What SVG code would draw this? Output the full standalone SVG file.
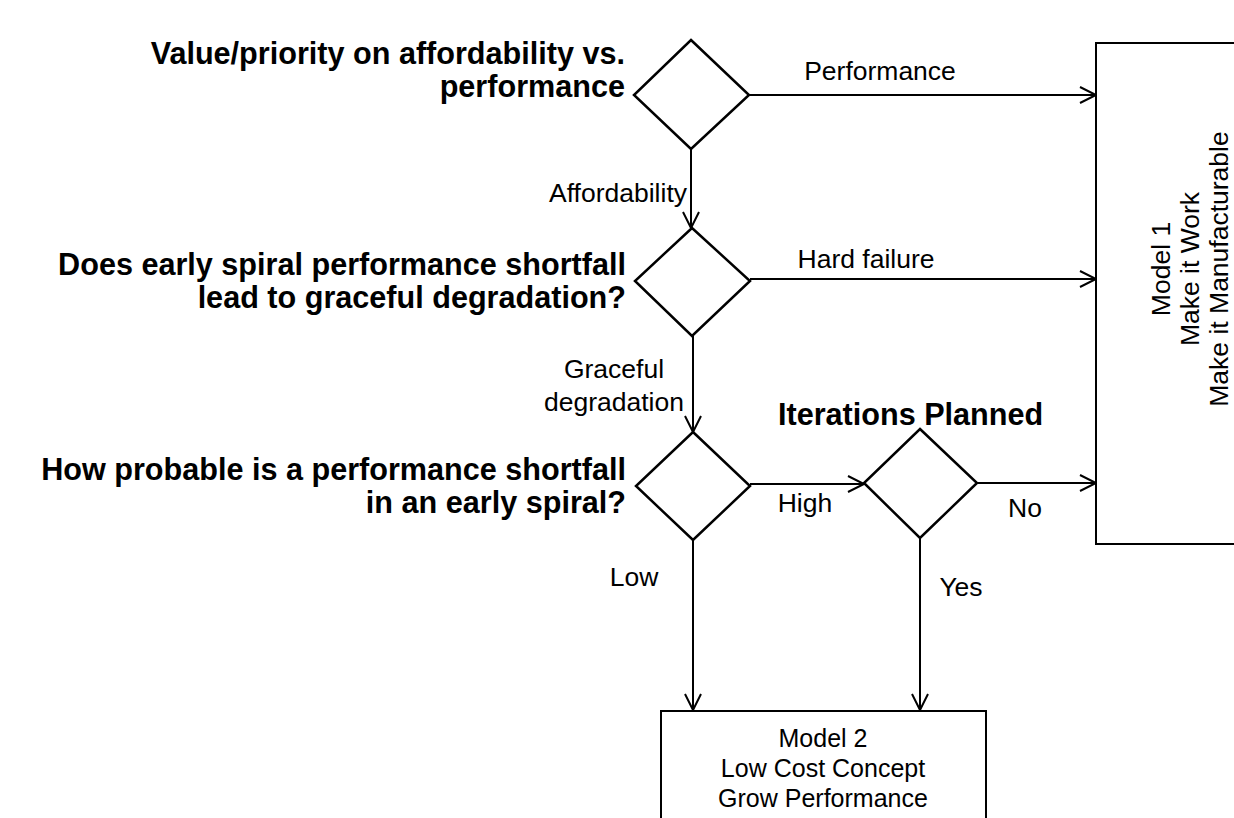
<svg xmlns="http://www.w3.org/2000/svg" width="1234" height="818" viewBox="0 0 1234 818">
<style>
.q{font-family:"Liberation Sans",Arial,sans-serif;font-weight:bold;font-size:30.6px;fill:#000}
.l{font-family:"Liberation Sans",Arial,sans-serif;font-size:26.5px;fill:#000}
.m{font-family:"Liberation Sans",Arial,sans-serif;font-size:25px;fill:#000}
.d{fill:#fff;stroke:#000;stroke-width:2.5}
.b{fill:#fff;stroke:#000;stroke-width:2}
.c{fill:none;stroke:#000;stroke-width:2;marker-end:url(#arr)}
</style>
<defs>
<marker id="arr" markerWidth="20" markerHeight="20" refX="17" refY="9" orient="auto" markerUnits="userSpaceOnUse">
<path d="M1,1 L17,9 L1,17" fill="none" stroke="#000" stroke-width="2"/>
</marker>
</defs>
<rect width="1234" height="818" fill="#fff"/>
<g id="connectors">
<line class="c" x1="749" y1="95" x2="1096" y2="95"/>
<line class="c" x1="691" y1="149" x2="691" y2="228"/>
<line class="c" x1="750" y1="279" x2="1096" y2="279"/>
<line class="c" x1="693" y1="336" x2="693" y2="432"/>
<line class="c" x1="750" y1="484" x2="864" y2="484"/>
<line class="c" x1="977" y1="483" x2="1096" y2="483"/>
<line class="c" x1="693" y1="540" x2="693" y2="710"/>
<line class="c" x1="920" y1="538" x2="920" y2="710"/>
<text class="l" x="880" y="80" text-anchor="middle">Performance</text>
<text class="l" x="687" y="202" text-anchor="end">Affordability</text>
<text class="l" x="866" y="268" text-anchor="middle">Hard failure</text>
<text class="l" x="614" y="378" text-anchor="middle">Graceful</text>
<text class="l" x="614" y="411" text-anchor="middle">degradation</text>
<text class="l" x="805" y="512" text-anchor="middle">High</text>
<text class="l" x="1025" y="517" text-anchor="middle">No</text>
<text class="l" x="961" y="596" text-anchor="middle">Yes</text>
<text class="l" x="634" y="586" text-anchor="middle">Low</text>
</g>
<g id="q1">
<polygon class="d" points="691,40 749,95 691,149 634,95"/>
<text class="q" text-anchor="end"><tspan x="625" y="64">Value/priority on affordability vs.</tspan><tspan x="625" y="97">performance</tspan></text>
</g>
<g id="q2">
<polygon class="d" points="692,228 750,281 692,336 635,281"/>
<text class="q" text-anchor="end"><tspan x="626" y="275">Does early spiral performance shortfall</tspan><tspan x="626" y="308">lead to graceful degradation?</tspan></text>
</g>
<g id="q3">
<polygon class="d" points="693,432 750,486 693,540 636,486"/>
<text class="q" text-anchor="end"><tspan x="626" y="480">How probable is a performance shortfall</tspan><tspan x="626" y="513">in an early spiral?</tspan></text>
</g>
<g id="iterations">
<polygon class="d" points="920,429 977,483 920,538 864,483"/>
<text class="q" x="778" y="425">Iterations Planned</text>
</g>
<g id="model1">
<rect class="b" x="1096" y="43" width="210" height="501"/>
<text class="l" text-anchor="middle" transform="translate(1199,269) rotate(-90)"><tspan x="0" y="-29">Model 1</tspan><tspan x="0" y="0">Make it Work</tspan><tspan x="0" y="29">Make it Manufacturable</tspan></text>
</g>
<g id="model2">
<rect class="b" x="661" y="711" width="325" height="130"/>
<text class="m" text-anchor="middle"><tspan x="823" y="747">Model 2</tspan><tspan x="823" y="777">Low Cost Concept</tspan><tspan x="823" y="807">Grow Performance</tspan></text>
</g>
</svg>
